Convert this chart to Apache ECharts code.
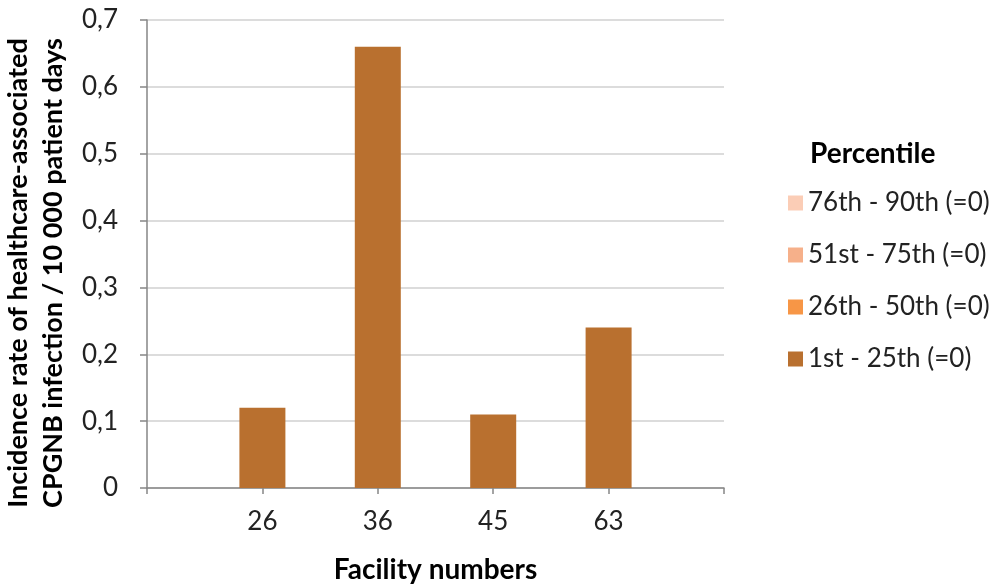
<!DOCTYPE html>
<html>
<head>
<meta charset="utf-8">
<script src="https://cdn.jsdelivr.net/npm/echarts@6/dist/echarts.min.js"></script>
<style>html,body{margin:0;padding:0;background:#fff}#c{width:996px;height:584px}</style>
</head>
<body>
<div id="c"></div>
<script>
var categories = ['', '26', '36', '45', '63', ''];
var seriesNames = ['76th - 90th (=0)', '51st - 75th (=0)', '26th - 50th (=0)', '1st - 25th (=0)'];
var values76 = [null, null, null, null, null, null];
var values51 = [null, null, null, null, null, null];
var values26 = [null, null, null, null, null, null];
var values1 = [null, 0.12, 0.66, 0.11, 0.24, null];
var yTicks = [0, 0.1, 0.2, 0.3, 0.4, 0.5, 0.6, 0.7];
var colors = ['#FBCDB6', '#F6B08A', '#F79646', '#B9702F'];

var FONT = 'Lato';
var FS = 26;
var FB = 28;
var chart = echarts.init(document.getElementById('c'));
var allData = [values76, values51, values26, values1];
var series = seriesNames.map(function (n, i) {
  return {
    name: n, type: 'bar', stack: 's', data: allData[i], barWidth: 46,
    itemStyle: { color: colors[i] }
  };
});
chart.setOption({
  animation: false,
  textStyle: { fontFamily: FONT },
  grid: { left: 147, right: 272, top: 20, bottom: 96, containLabel: false, outerBoundsMode: 'none' },
  title: {
    text: 'Percentile', left: 805, top: 135,
    textStyle: { fontFamily: FONT, fontSize: FB, fontWeight: 'bold', color: '#000' }
  },
  legend: {
    orient: 'vertical', left: 783, top: 185,
    data: seriesNames.slice(),
    itemWidth: 15, itemHeight: 15, itemGap: 26,
    icon: 'rect',
    textStyle: { fontFamily: FONT, fontSize: FS, lineHeight: 26, color: '#222', padding: [0, 0, 0, 0] }
  },
  xAxis: {
    type: 'category', data: categories, boundaryGap: false,
    axisLine: { lineStyle: { color: '#868686', width: 1.5 } },
    axisTick: { show: true, length: 6, lineStyle: { color: '#868686', width: 1.5 } },
    axisLabel: { margin: 21, fontSize: FS, color: '#222', fontFamily: FONT },
    name: 'Facility numbers', nameLocation: 'middle', nameGap: 68,
    nameTextStyle: { fontSize: FB, fontWeight: 'bold', color: '#000', fontFamily: FONT }
  },
  yAxis: {
    type: 'value', min: yTicks[0], max: yTicks[yTicks.length - 1], interval: 0.1,
    axisLine: { show: true, lineStyle: { color: '#868686', width: 1.5 } },
    axisTick: { show: true, length: 7, lineStyle: { color: '#868686', width: 1.5 } },
    splitLine: { lineStyle: { color: '#D0D0D0', width: 1.5 } },
    axisLabel: {
      margin: 29, fontSize: FS, color: '#222', fontFamily: FONT,
      formatter: function (v) { return v === 0 ? '0' : (Math.round(v * 10) / 10).toString().replace('.', ','); }
    },
    name: 'Incidence rate of healthcare-associated\nCPGNB infection / 10 000 patient days',
    nameLocation: 'middle', nameRotate: 90, nameGap: 76,
    nameTextStyle: { fontSize: 27, fontWeight: 'bold', color: '#000', fontFamily: FONT, lineHeight: 35, padding: [0, 38, 0, 0] }
  },
  series: series
});
</script>
</body>
</html>
